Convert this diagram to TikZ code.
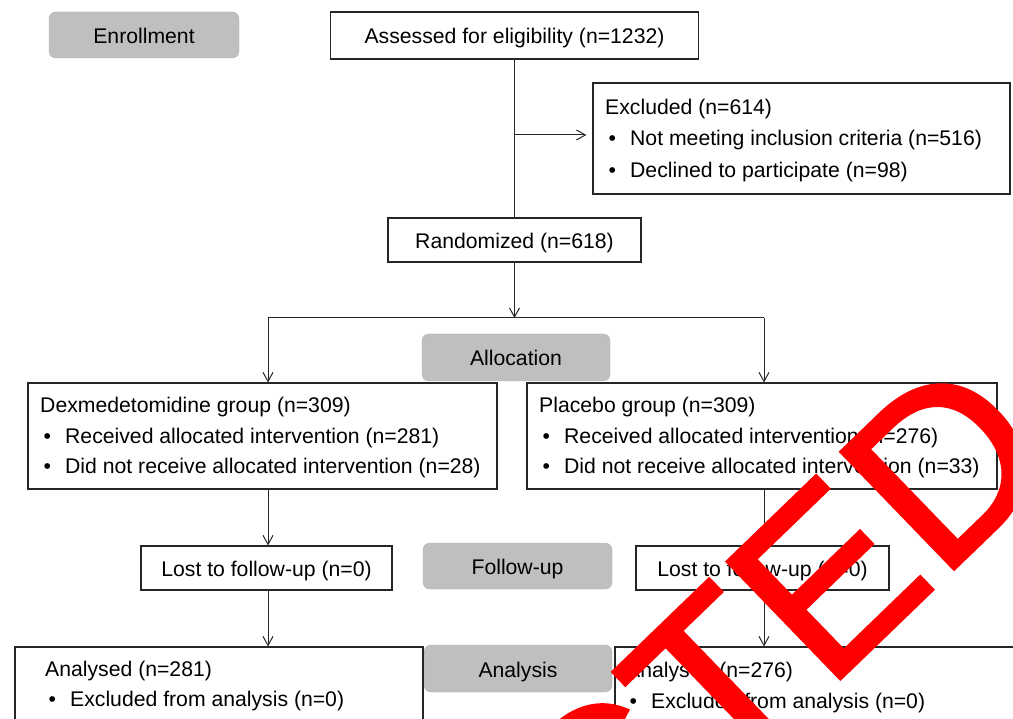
\documentclass[tikz,border=0pt]{standalone}
\usepackage{fontspec}
\setmainfont{Liberation Sans}
\newfontfamily\stampfont[FakeBold=1.3]{Liberation Sans}
\usetikzlibrary{arrows.meta}
\definecolor{boxgray}{RGB}{191,191,191}
\definecolor{stampred}{RGB}{255,0,0}
\tikzset{
  frame/.style={draw=black!85, line width=1.2pt, inner sep=0pt, fill=white, text height=17pt, text depth=0pt},
  phase/.style={fill=boxgray, draw=boxgray!92!black, line width=0.4pt, rounded corners=7pt, inner sep=0pt, text height=17pt, text depth=0pt},
  txt/.style={anchor=base west, inner sep=0pt},
  conn/.style={draw=black!85, line width=1pt},
  arr/.style={conn, -{Straight Barb[length=9pt,width=10pt]}},
  stamp/.style={anchor=base west, rotate=44, inner sep=0pt, text=stampred, font=\stampfont\fontsize{237}{237}\selectfont}
}
\newcommand{\bul}{\makebox[25pt][l]{\hspace{3.3pt}\textbullet}}
\begin{document}
\begin{tikzpicture}[x=1pt, y=-1pt, font=\fontsize{21.2}{25}\selectfont]
\useasboundingbox (0,0) rectangle (1013,719);
\begin{scope}
\clip (0,0) rectangle (1013,719);
\fill[white] (0,0) rectangle (1013,719);

% phase labels
\node[phase, minimum width=190pt, minimum height=46pt] (enr) at (144,35) {Enrollment};
\node[phase, minimum width=188pt, minimum height=47pt] (alloc) at (516,357.5) {Allocation};
\node[phase, minimum width=189pt, minimum height=46pt] (fup) at (517.5,566) {Follow-up};
\node[phase, minimum width=188pt, minimum height=47pt] (ana) at (518,668.5) {Analysis};

% boxes
\node[frame, minimum width=368pt, minimum height=47pt] (assess) at (514.5,35.5) {Assessed for eligibility (n=1232)};
\node[frame, minimum width=417pt, minimum height=111pt] (excl) at (801.5,138.5) {};
\node[txt] (exclt1) at (605,114.5) {Excluded (n=614)};
\node[txt] (exclt2) at (605,146) {\bul Not meeting inclusion criteria (n=516)};
\node[txt] (exclt3) at (605,177.5) {\bul Declined to participate (n=98)};

\node[frame, minimum width=253pt, minimum height=44pt] (rand) at (514.5,240) {Randomized (n=618)};

\node[frame, minimum width=469pt, minimum height=106pt] (dex) at (262.5,436) {};
\node[txt] (dext1) at (40,413) {Dexmedetomidine group (n=309)};
\node[txt] (dext2) at (40,443.5) {\bul Received allocated intervention (n=281)};
\node[txt] (dext3) at (40,474) {\bul Did not receive allocated intervention (n=28)};

\node[frame, minimum width=470pt, minimum height=106pt] (plac) at (762,436) {};
\node[txt] (plact1) at (539,413) {Placebo group (n=309)};
\node[txt] (plact2) at (539,443.5) {\bul Received allocated intervention (n=276)};
\node[txt] (plact3) at (539,474) {\bul Did not receive allocated intervention (n=33)};

\node[frame, minimum width=251pt, minimum height=44pt] (lostl) at (266.5,568) {Lost to follow-up (n=0)};
\node[frame, minimum width=253pt, minimum height=44pt] (lostr) at (762.5,568) {Lost to follow-up (n=0)};

\node[frame, minimum width=408pt, minimum height=120pt] (anal) at (219,707) {};
\node[txt] (analt1) at (45,676.5) {Analysed (n=281)};
\node[txt] (analt2) at (45,706.5) {\bul Excluded from analysis (n=0)};

\node[frame, minimum width=450pt, minimum height=120pt] (anar) at (840,707) {};
\node[txt] (anart1) at (626,677) {Analysed (n=276)};
\node[txt] (anart2) at (626,708) {\bul Excluded from analysis (n=0)};

% connectors
\coordinate (j1) at (514.5,135);
\coordinate (sm) at (514.5,318);
\coordinate (sl) at (268,318);
\coordinate (sr) at (764,318);
\draw[conn] (assess.south) -- (rand.north);
\draw[arr, shorten >=6pt] (j1) -- (j1 -| excl.west);
\draw[arr] (rand.south) -- (sm);
\draw[conn] (sl) -- (sr);
\draw[arr] (sl) -- (sl |- dex.north);
\draw[arr] (sr) -- (sr |- plac.north);
\draw[arr] (sl |- dex.south) -- (sl |- lostl.north);
\draw[arr] (sl |- lostl.south) -- (sl |- anal.north);
\draw[arr] (sr |- plac.south) -- (sr |- lostr.north);
\draw[arr] (sr |- lostr.south) -- (sr |- anar.north);

% retraction stamp
\node[stamp] (stampword) at (599,912) {CTED};
\end{scope}
\end{tikzpicture}
\end{document}
